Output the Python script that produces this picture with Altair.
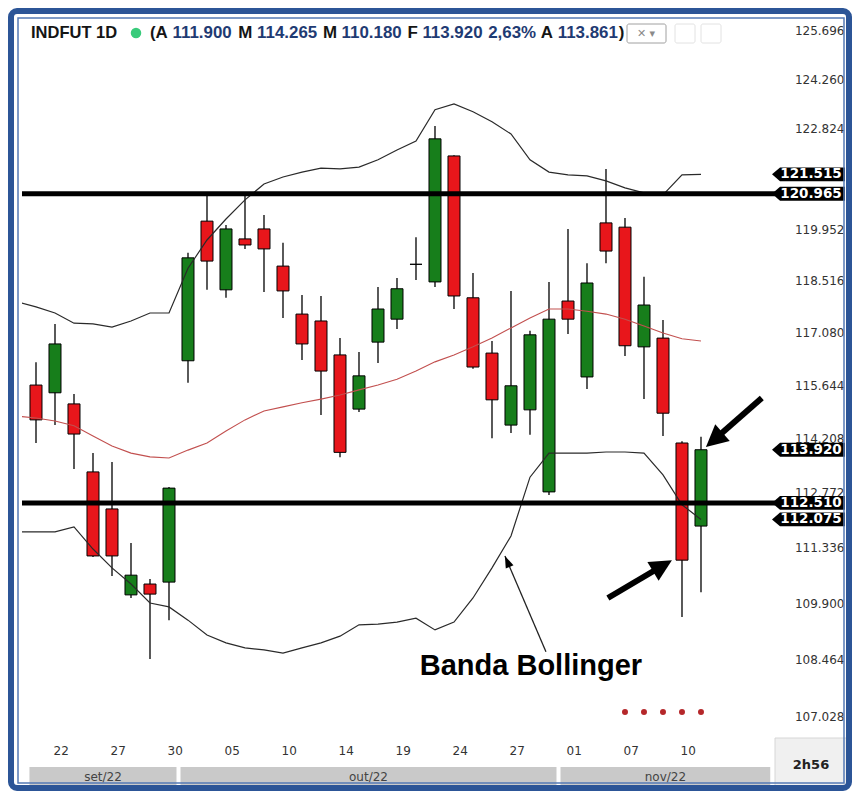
import altair as alt
import pandas as pd

# ---------------- data ----------------
candle_idx = list(range(36))
opens = [115.66, 115.45, 115.15, 113.33, 112.35, 110.11, 110.39, 110.44, 116.32, 120.19,
         118.27, 119.69, 119.97, 118.93, 117.60, 117.41, 116.48, 115.01, 116.83, 117.46,
         118.98, 118.49, 122.04, 118.05, 116.53, 114.58, 114.99, 112.80, 117.96, 115.88,
         120.14, 120.02, 116.70, 116.94, 114.10, 111.90]
highs = [116.28, 117.33, 115.42, 113.83, 113.59, 111.46, 110.52, 112.93, 119.30, 121.01,
         120.08, 121.01, 120.36, 119.58, 118.13, 118.10, 116.94, 116.56, 118.35, 118.60,
         119.74, 122.90, 122.06, 118.74, 116.86, 118.24, 117.14, 118.49, 119.97, 119.01,
         121.67, 120.28, 118.63, 117.44, 114.15, 114.265]
lows = [114.10, 114.58, 113.41, 111.09, 110.60, 110.03, 108.47, 109.46, 115.72, 118.27,
        118.05, 119.41, 118.21, 117.49, 116.34, 114.85, 113.72, 114.93, 116.26, 117.19,
        118.54, 118.35, 117.74, 116.10, 114.23, 114.37, 114.32, 112.72, 117.05, 115.55,
        119.01, 116.45, 115.28, 114.29, 109.54, 110.18]
closes = [114.72, 116.78, 114.34, 111.12, 111.12, 110.62, 110.13, 112.90, 119.16, 119.07,
          119.97, 119.52, 119.41, 118.24, 116.78, 116.04, 113.85, 115.91, 117.74, 118.30,
          118.98, 122.53, 118.10, 116.15, 115.26, 115.64, 117.03, 117.46, 117.46, 118.46,
          119.35, 116.73, 117.85, 114.90, 111.01, 113.92]

band_idx = list(range(-1, 36))
upper_band = [117.94, 117.80, 117.63, 117.35, 117.33, 117.24, 117.41, 117.63, 117.63, 118.87,
              119.66, 120.25, 120.79, 121.24, 121.44, 121.58, 121.69, 121.67, 121.72, 121.93,
              122.21, 122.47, 123.37, 123.54, 123.31, 123.02, 122.67, 121.93, 121.58, 121.50,
              121.47, 121.33, 121.13, 120.99, 120.93, 121.50, 121.515]
middle_band = [114.82, 114.77, 114.69, 114.56, 114.29, 114.02, 113.83, 113.73, 113.70, 113.91,
               114.10, 114.42, 114.72, 114.96, 115.07, 115.18, 115.28, 115.39, 115.53, 115.66,
               115.82, 116.04, 116.29, 116.48, 116.70, 116.94, 117.22, 117.49, 117.74, 117.74,
               117.68, 117.60, 117.46, 117.27, 117.08, 116.92, 116.86]
lower_band = [111.75, 111.75, 111.75, 111.88, 111.30, 110.81, 110.39, 109.90, 109.80, 109.46,
              109.08, 108.88, 108.75, 108.70, 108.62, 108.75, 108.88, 109.05, 109.34, 109.36,
              109.41, 109.51, 109.21, 109.41, 110.03, 110.81, 111.64, 113.19, 113.83, 113.83,
              113.83, 113.86, 113.86, 113.83, 113.25, 112.46, 112.075]

h_levels = [120.965, 112.510]
tag_values = [121.515, 120.965, 113.920, 112.510, 112.075]
y_labels = [125.696, 124.260, 122.824, 119.952, 118.516, 117.080, 115.644, 114.208,
            112.772, 111.336, 109.900, 108.464, 107.028]
day_idx = [1, 4, 7, 10, 13, 16, 19, 22, 25, 28, 31, 34]
day_labels = ["22", "27", "30", "05", "10", "14", "19", "24", "27", "01", "07", "10"]
month_labels = ["set/22", "out/22", "nov/22"]
month_start = [-0.45, 7.5, 27.5]
month_end = [7.5, 27.5, 38.75]
dot_idx = [31, 32, 33, 34, 35]
dot_price = [107.13, 107.13, 107.13, 107.13, 107.13]

# arrows: (tail idx, tail price, tip idx, tip price)
thick_tail_i = [38.2, 30.1]
thick_tail_p = [115.31, 110.03]
thick_tip_i = [35.26, 33.47]
thick_tip_p = [113.99, 111.01]
thick_angle = [228.8, 59.3]
thin_tail_i, thin_tail_p, thin_tip_i, thin_tip_p = 26.84, 108.65, 24.68, 111.12
annot_i, annot_p = 26.05, 108.30

header_tokens = ["(A", "111.900", "M", "114.265", "M", "110.180", "F", "113.920", "2,63%", "A", "113.861", ")"]
header_colors = ["k", "b", "k", "b", "k", "b", "k", "b", "b", "k", "b", "k"]

# ---------------- styling ----------------
W, H = 753, 717
XMIN, XMAX = -0.7368, 38.895
YMIN, YMAX = 106.503, 125.991
RED, GREEN = "#E8161B", "#177E1B"
FONT = "DejaVu Sans"

xs = alt.Scale(domain=[XMIN, XMAX], nice=False, zero=False, padding=0)
ys = alt.Scale(type="log", domain=[YMIN, YMAX], nice=False, zero=False, padding=0)

label_expr = "[" + ",".join("'%s'" % d for d in day_labels) + "][round((datum.value-1)/3)]"
xax = alt.Axis(values=day_idx, labelExpr=label_expr, labelAlign="left", labelOffset=-2,
               labelPadding=13, labelBaseline="middle", ticks=False, domain=False, grid=False,
               title=None, labelFont=FONT, labelFontSize=12, labelColor="#333",
               labelFlush=False, labelOverlap=False, labelBound=False)
yax = alt.Axis(orient="right", values=y_labels, format=".3f", labelAlign="right",
               labelPadding=69, labelBaseline="middle", ticks=False, domain=False, grid=False,
               title=None, labelFont=FONT, labelFontSize=12, labelColor="#333",
               labelOverlap=False, labelFlush=False, labelBound=False)


def X(field):
    return alt.X(field, scale=xs, axis=xax)


def Y(field):
    return alt.Y(field, scale=ys, axis=yax)


dirs = []
for o, c in zip(opens, closes):
    dirs.append("doji" if o == c else ("up" if c > o else "down"))
cdf = pd.DataFrame({"idx": candle_idx, "open": opens, "high": highs, "low": lows,
                    "close": closes, "dir": dirs})
bdf = pd.DataFrame({"idx": band_idx, "upper": upper_band, "middle": middle_band,
                    "lower": lower_band})

wicks = alt.Chart(cdf).mark_rule(color="black", strokeWidth=1.3).encode(
    x=X("idx:Q"), y=Y("low:Q"), y2="high:Q")
bodies = alt.Chart(cdf).mark_bar(size=12, stroke="black", strokeWidth=1).encode(
    x=X("idx:Q"), y=Y("open:Q"), y2="close:Q",
    color=alt.Color("dir:N", scale=alt.Scale(domain=["up", "down", "doji"],
                                            range=[GREEN, RED, "black"]), legend=None))
up_line = alt.Chart(bdf).mark_line(color="#2a2a2a", strokeWidth=1.2, clip=True).encode(
    x=X("idx:Q"), y=Y("upper:Q"))
lo_line = alt.Chart(bdf).mark_line(color="#2a2a2a", strokeWidth=1.2, clip=True).encode(
    x=X("idx:Q"), y=Y("lower:Q"))
mid_line = alt.Chart(bdf).mark_line(color="#C2504F", strokeWidth=1.1, clip=True).encode(
    x=X("idx:Q"), y=Y("middle:Q"))

hl = alt.Chart(pd.DataFrame({"level": h_levels})).mark_rule(color="black", strokeWidth=5).encode(
    y=Y("level:Q"))

tdf = pd.DataFrame({"val": tag_values, "txt": ["%.3f" % v for v in tag_values]})
tag_path = "M -1 0 L -0.78 -0.19 L 1 -0.19 L 1 0.19 L -0.78 0.19 Z"
tags = alt.Chart(tdf).mark_point(shape=tag_path, size=5329, filled=True, color="black",
                                 opacity=1, strokeWidth=0).encode(
    x=alt.value(786.5), y=Y("val:Q"))
tag_txt = alt.Chart(tdf).mark_text(color="white", font=FONT, fontSize=13.5, fontWeight="bold",
                                   align="center", baseline="middle").encode(
    x=alt.value(789), y=Y("val:Q"), text="txt:N")

dots = alt.Chart(pd.DataFrame({"idx": dot_idx, "p": dot_price})).mark_circle(
    size=36, color="#B5272A", opacity=1).encode(x=X("idx:Q"), y=Y("p:Q"))

# arrows
adf = pd.DataFrame({"ti": thick_tail_i, "tp": thick_tail_p, "hi": thick_tip_i, "hp": thick_tip_p,
                    "ang": thick_angle})
adf["si"] = adf["hi"] + 0.28 * (adf["ti"] - adf["hi"])
adf["sp"] = adf["hp"] + 0.28 * (adf["tp"] - adf["hp"])
shafts = alt.Chart(adf).mark_rule(color="black", strokeWidth=6).encode(
    x=X("ti:Q"), y=Y("tp:Q"), x2="si:Q", y2="sp:Q")
head_path = "M 0 0 L 1 2 L -1 2 Z"
heads = alt.Chart(adf).mark_point(shape=head_path, size=484, filled=True, color="black",
                                  opacity=1, strokeWidth=0).encode(
    x=X("hi:Q"), y=Y("hp:Q"), angle=alt.Angle("ang:Q", scale=None))
thdf = pd.DataFrame({"ti": [thin_tail_i], "tp": [thin_tail_p], "hi": [thin_tip_i],
                     "hp": [thin_tip_p], "ang": [336.9]})
thin_shaft = alt.Chart(thdf).mark_rule(color="#222", strokeWidth=1.3).encode(
    x=X("ti:Q"), y=Y("tp:Q"), x2="hi:Q", y2="hp:Q")
thin_head = alt.Chart(thdf).mark_point(shape="M 0 0 L 0.7 2 L -0.7 2 Z", size=144, filled=True,
                                       color="black", opacity=1, strokeWidth=0).encode(
    x=X("hi:Q"), y=Y("hp:Q"), angle=alt.Angle("ang:Q", scale=None))
annot = alt.Chart(pd.DataFrame({"i": [annot_i], "p": [annot_p], "t": ["Banda Bollinger"]})).mark_text(
    font="Liberation Sans", fontSize=29, fontWeight="bold", color="black", align="center",
    baseline="middle").encode(x=X("i:Q"), y=Y("p:Q"), text="t:N")

# month bar
mdf = pd.DataFrame({"s": month_start, "e": month_end, "m": month_labels})
mdf["mid"] = (mdf["s"] + mdf["e"]) / 2
mbar = alt.Chart(mdf).mark_rect(color="#C9C9C9", xOffset=2, x2Offset=-2).encode(
    x=X("s:Q"), x2="e:Q", y=alt.value(747), y2=alt.value(766))
mtxt = alt.Chart(mdf).mark_text(font=FONT, fontSize=12, color="#444", baseline="middle").encode(
    x=X("mid:Q"), y=alt.value(757), text="m:N")

one = pd.DataFrame({"a": [0]})
box = alt.Chart(one).mark_rect(fill="#F0F0F0", stroke="#D6D6D6", strokeWidth=1).encode(
    x=alt.value(753), x2=alt.value(826), y=alt.value(718), y2=alt.value(767))
box_txt = alt.Chart(one).mark_text(text="2h56", font=FONT, fontSize=13, fontWeight="bold",
                                   color="#222", baseline="middle", align="center").encode(
    x=alt.value(789), y=alt.value(745))

# header
AW = {"(": 333, ")": 333, "A": 722, "M": 833, "F": 611, ".": 278, ",": 278, "%": 889, " ": 278,
      "I": 278, "N": 722, "D": 722, "U": 722, "T": 611}
FS = 16.9


def tw(s):
    return sum(AW.get(ch, 556) for ch in s) * FS / 1000.0


header_layers = []
hx = 128.0
for k, (tok, col) in enumerate(zip(header_tokens, header_colors)):
    header_layers.append(
        alt.Chart(one).mark_text(text=tok, font="Liberation Sans", fontSize=FS, fontWeight="bold",
                                 align="left", baseline="middle",
                                 color="#151515" if col == "k" else "#1F3B73").encode(
            x=alt.value(round(hx, 1)), y=alt.value(13)))
    hx += tw(tok)
    if k + 1 < len(header_tokens) and header_tokens[k + 1] != ")":
        hx += tw(" ")

title_txt = alt.Chart(one).mark_text(text="INDFUT 1D", font="Liberation Sans", fontSize=16.5,
                                     fontWeight="bold", color="#151515", align="left",
                                     baseline="middle").encode(x=alt.value(9), y=alt.value(13))
gdot = alt.Chart(one).mark_circle(size=110, color="#39CB7B", opacity=1).encode(
    x=alt.value(114), y=alt.value(13))
icon1 = alt.Chart(one).mark_rect(fill="white", stroke="#A0A0A0", strokeWidth=1, cornerRadius=2).encode(
    x=alt.value(605), x2=alt.value(644), y=alt.value(4), y2=alt.value(23))
icon1_t = alt.Chart(one).mark_text(text="✕ ▾", font=FONT, fontSize=11, color="#8a8a8a",
                                   align="center", baseline="middle").encode(
    x=alt.value(624), y=alt.value(14))
icon2 = alt.Chart(one).mark_rect(fill="white", stroke="#E2E2E2", strokeWidth=1, cornerRadius=2).encode(
    x=alt.value(653), x2=alt.value(673), y=alt.value(4), y2=alt.value(23))
icon3 = alt.Chart(one).mark_rect(fill="white", stroke="#E2E2E2", strokeWidth=1, cornerRadius=2).encode(
    x=alt.value(679), x2=alt.value(699), y=alt.value(4), y2=alt.value(23))

# frame
frame = alt.Chart(one).mark_rect(fillOpacity=0, stroke="#2C5597", strokeWidth=6, cornerRadius=6).encode(
    x=alt.value(-11), x2=alt.value(827), y=alt.value(-9), y2=alt.value(768))
frame2 = alt.Chart(one).mark_rect(fillOpacity=0, stroke="#5479B5", strokeWidth=1.5).encode(
    x=alt.value(-4), x2=alt.value(822), y=alt.value(-2), y2=alt.value(763))

chart = alt.layer(
    wicks, bodies, up_line, mid_line, lo_line, hl, dots, tags, tag_txt,
    thin_shaft, thin_head, shafts, heads, annot, mbar, mtxt, box, box_txt,
    title_txt, gdot, *header_layers, icon1, icon1_t, icon2, icon3, frame, frame2
).properties(
    width=W, height=H,
    padding={"left": 14, "top": 12, "right": 77, "bottom": 54},
    autosize=alt.AutoSizeParams(type="none"),
    background="white",
).configure_view(stroke=None)

chart.save("out.html", embed_options={"renderer": "svg", "actions": False})
